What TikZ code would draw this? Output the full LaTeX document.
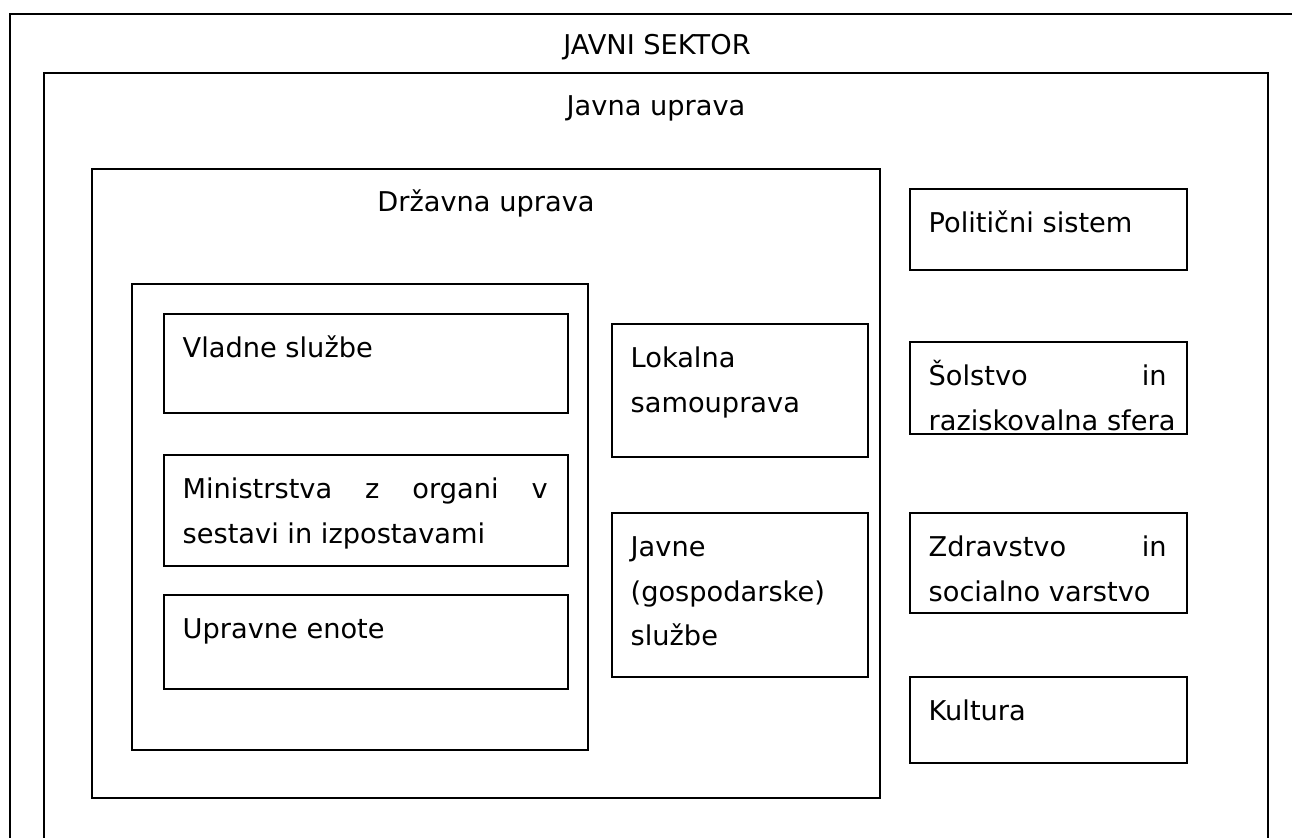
\documentclass[tikz,border=0pt]{standalone}
\usepackage{fontspec}
\setmainfont{DejaVu Sans}
\usetikzlibrary{calc,fit}

\tikzset{
  okvir/.style={draw, line width=0.8pt, inner sep=0pt},
  besedilo/.style={anchor=base west, inner sep=0pt, align=justify, font=\fontsize{15.5}{25.5}\selectfont},
  naslov/.style={anchor=base, inner sep=0pt, font=\fontsize{15.5}{25.5}\selectfont},
}

\begin{document}
\begin{tikzpicture}[x=0.02cm,y=-0.02cm]
\useasboundingbox (0,0) rectangle (1292,838);
\clip (0,0) rectangle (1292,838);

% the two outer frames run past the page
\node[okvir, fit={(10,14) (1320,870)}] (sektor) {};
\node[okvir, fit={(44,73) (1268,870)}] (uprava) {};

\node[naslov] (sektorT) at (657,55) {JAVNI SEKTOR};
\node[naslov] (upravaT) at (656,116) {Javna uprava};

\node[okvir, fit={(92,169) (880,798)}] (drzavna) {};
\node[naslov] (drzavnaT) at ($(drzavna.north)+(0,43)$) {Državna uprava};

\node[okvir, fit={(132,284) (588,750)}] (skupina) {};

\node[okvir, fit={(164,314) (568,413)}] (vlad) {};
\node[okvir, fit={(164,455) (568,566)}] (min) {};
\node[okvir, fit={(164,595) (568,689)}] (enote) {};
\node[okvir, fit={(612,324) (868,457)}] (lok) {};
\node[okvir, fit={(612,513) (868,677)}] (javne) {};

\node[okvir, fit={(910,189) (1187,270)}] (pol) {};
\node[okvir, fit={(910,342) (1187,434)}] (sol) {};
\node[okvir, fit={(910,513) (1187,613)}] (zdr) {};
\node[okvir, fit={(910,677) (1187,763)}] (kul) {};

\node[besedilo] (vladT) at ($(vlad.north west)+(19,44)$) {Vladne službe};
\node[besedilo, text width=7.3cm] (minT) at ($(min.north west)+(19,44)$)
  {Ministrstva\hfill z\hfill organi\hfill v\\sestavi in izpostavami};
\node[besedilo] (enoteT) at ($(enote.north west)+(19,44)$) {Upravne enote};
\node[besedilo, text width=4.34cm] (lokT) at ($(lok.north west)+(19,44)$)
  {Lokalna\\samouprava};
\node[besedilo, text width=4.34cm] (javneT) at ($(javne.north west)+(19,44)$)
  {Javne\\(gospodarske)\\službe};

\node[besedilo] (polT) at ($(pol.north west)+(19,44)$) {Politični sistem};
\node[besedilo, text width=4.76cm] (solT) at ($(sol.north west)+(19,44)$)
  {Šolstvo\hfill in\\\mbox{raziskovalna sfera}};
\node[besedilo, text width=4.76cm] (zdrT) at ($(zdr.north west)+(19,44)$)
  {Zdravstvo\hfill in\\socialno varstvo};
\node[besedilo] (kulT) at ($(kul.north west)+(19,44)$) {Kultura};

\end{tikzpicture}
\end{document}
